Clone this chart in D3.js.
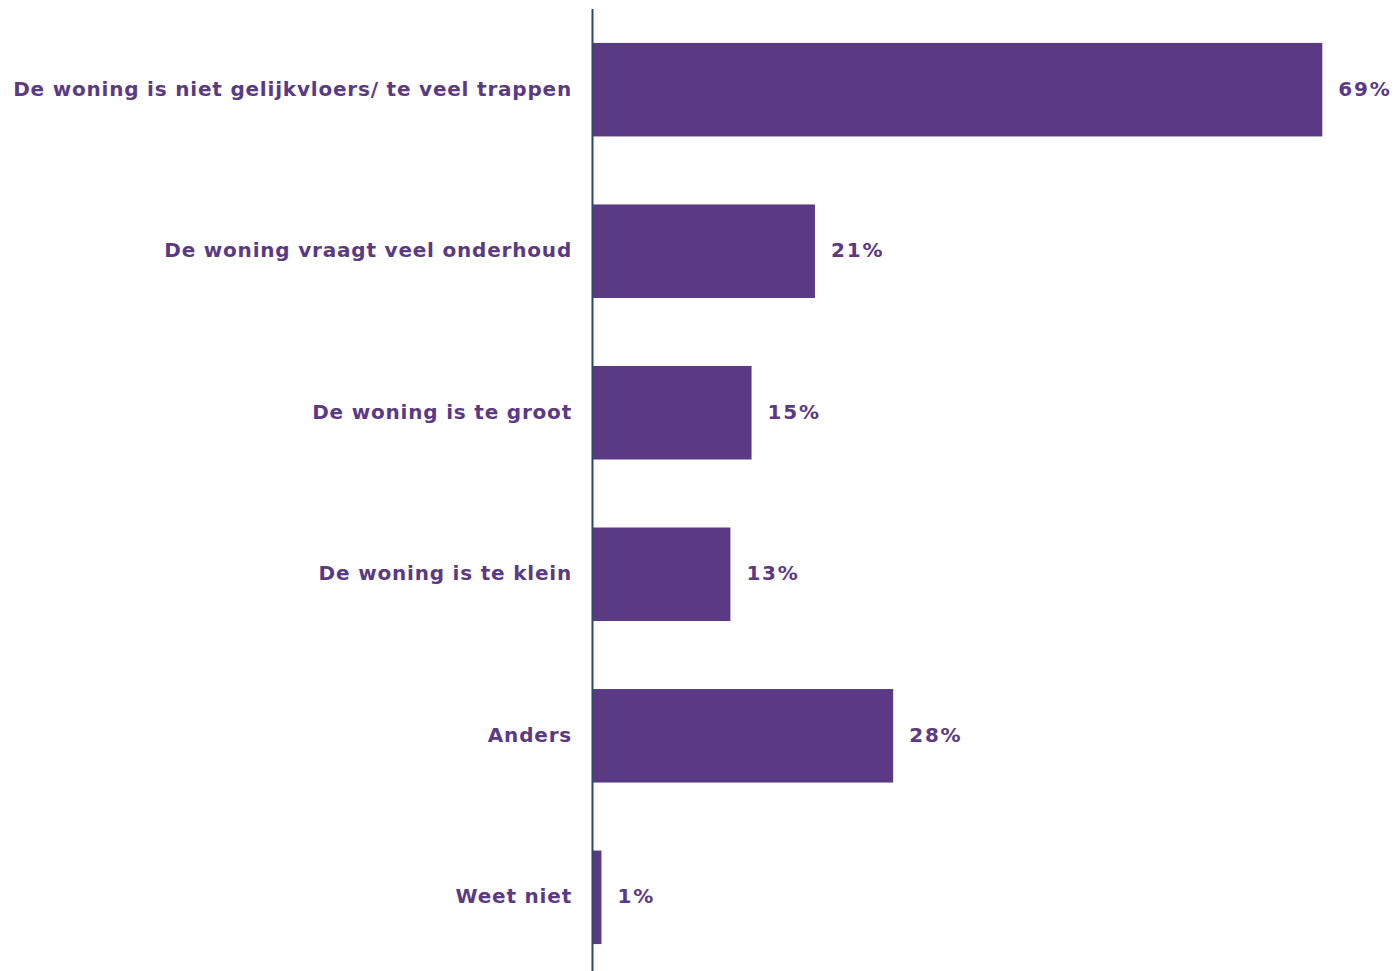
<!DOCTYPE html>
<html>
<head>
<meta charset="utf-8">
<script src="https://cdn.jsdelivr.net/npm/d3@7"></script>
<style>
  html, body { margin: 0; padding: 0; background: #ffffff; }
  svg { display: block; }
</style>
</head>
<body>
<svg id="chart" width="1398" height="971"></svg>
<script>
const categories = [
  "De woning is niet gelijkvloers/ te veel trappen",
  "De woning vraagt veel onderhoud",
  "De woning is te groot",
  "De woning is te klein",
  "Anders",
  "Weet niet"
];
const values = [69, 21, 15, 13, 28.4, 0.8];
const valueLabels = ["69%", "21%", "15%", "13%", "28%", "1%"];

const purple = "#5b3a84";
const axisColor = "#2f4a69";
const font = "'DejaVu Sans', Verdana, sans-serif";

const svg = d3.select("#chart");
const x0 = 593;

const x = d3.scaleLinear().domain([0, 69]).range([x0, 1322.3]);
const y = d3.scaleBand().domain(categories).range([9, 978]).paddingInner(0.421).paddingOuter(0.21);

svg.append("g").selectAll("rect")
  .data(categories)
  .join("rect")
  .attr("x", x(0))
  .attr("y", d => y(d))
  .attr("width", (d, i) => x(values[i]) - x(0))
  .attr("height", y.bandwidth())
  .attr("fill", purple);

svg.append("g").selectAll("text")
  .data(categories)
  .join("text")
  .attr("x", 572)
  .attr("y", d => y(d) + y.bandwidth() / 2)
  .attr("dy", "0.3em")
  .attr("text-anchor", "end")
  .attr("font-family", font)
  .attr("font-weight", "bold")
  .attr("font-size", 20)
  .attr("letter-spacing", 0.8)
  .attr("fill", purple)
  .text(d => d);

svg.append("g").selectAll("text")
  .data(categories)
  .join("text")
  .attr("x", (d, i) => x(values[i]) + 16)
  .attr("y", d => y(d) + y.bandwidth() / 2)
  .attr("dy", "0.3em")
  .attr("text-anchor", "start")
  .attr("font-family", font)
  .attr("font-weight", "bold")
  .attr("font-size", 20)
  .attr("letter-spacing", 1.8)
  .attr("fill", purple)
  .text((d, i) => valueLabels[i]);

// vertical axis line
svg.append("line")
  .attr("x1", x0 - 0.5).attr("x2", x0 - 0.5)
  .attr("y1", y.range()[0]).attr("y2", 971)
  .attr("stroke", axisColor)
  .attr("stroke-width", 2);
</script>
</body>
</html>
